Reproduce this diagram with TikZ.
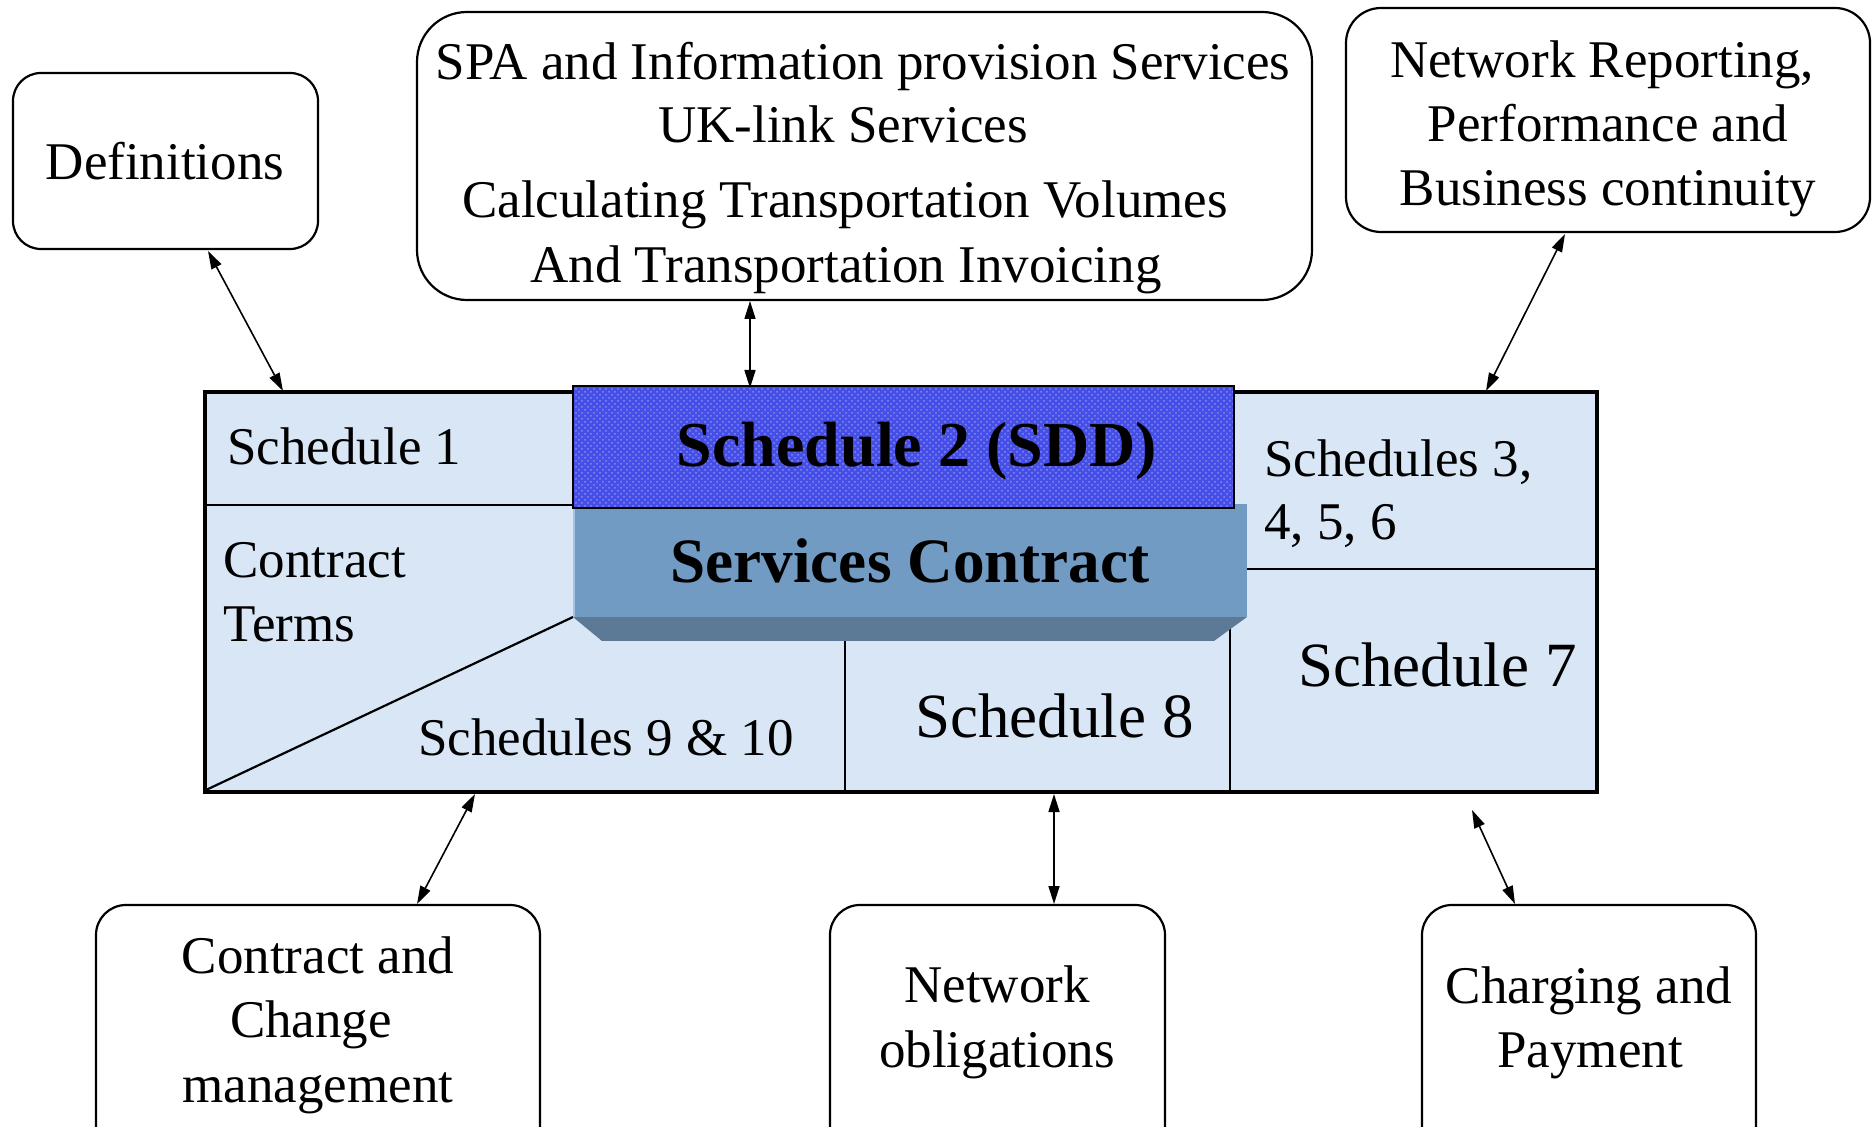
\documentclass[tikz,border=0pt]{standalone}
\usepackage{fontspec}
\setmainfont{Liberation Serif}
\usetikzlibrary{arrows.meta,patterns}
\definecolor{mainbg}{RGB}{216,230,246}
\definecolor{sddblue}{RGB}{70,78,232}
\definecolor{faceblue}{RGB}{114,155,195}
\definecolor{bevelblue}{RGB}{92,121,150}
\definecolor{faceedge}{RGB}{160,195,230}
\begin{document}
\begin{tikzpicture}[x=0.5pt,y=-0.5pt,
  txt/.style={inner sep=0pt, font=\fontsize{26.5}{32}\selectfont, anchor=base},
  txtl/.style={txt, anchor=base west},
  bigl/.style={inner sep=0pt, font=\fontsize{31.5}{38}\selectfont, anchor=base west},
  boldtxt/.style={inner sep=0pt, anchor=base},
  rbox/.style={draw, line width=1.1pt, rectangle, inner sep=0pt, fill=white},
  inner/.style={line width=1.1pt},
  arr/.style={line width=0.8pt, {Triangle[length=9pt,width=5.5pt]}-{Triangle[length=9pt,width=5.5pt]}}]
\useasboundingbox (0,0) rectangle (1873,1127);
\clip (0,0) rectangle (1873,1127);
\fill[white] (0,0) rectangle (1873,1127);

% outer boxes
\node[rbox, rounded corners=14pt, minimum width=152.5pt, minimum height=88pt] (defbox) at (165.5,161) {};
\node[rbox, rounded corners=25pt, minimum width=447.5pt, minimum height=144pt] (spabox) at (864.5,156) {};
\node[rbox, rounded corners=17.5pt, minimum width=262pt, minimum height=112pt] (netbox) at (1608,120) {};
\node[rbox, rounded corners=15pt, minimum width=222pt, minimum height=140pt] (ccbox) at (318,1045) {};
\node[rbox, rounded corners=15pt, minimum width=167.5pt, minimum height=140pt] (nobox) at (997.5,1045) {};
\node[rbox, rounded corners=15pt, minimum width=167pt, minimum height=140pt] (cpbox) at (1589,1045) {};

% main box
\node[draw, line width=2.2pt, fill=mainbg, minimum width=696pt, minimum height=200pt, inner sep=0pt] (main) at (901,592) {};
\draw[inner] (205,505) -- (573,505);
\draw[inner] (206,790) -- (573,617);
\draw[inner] (845,617) -- (845,792);
\draw[inner] (1230,617) -- (1230,792);
\draw[inner] (1247,569) -- (1597,569);

% services contract block
\fill[bevelblue] (573,617) -- (602,641) -- (1214,641) -- (1247,617) -- cycle;
\fill[faceblue] (573,504) rectangle (1247,617);
\draw[faceedge, line width=1pt] (574,508) -- (574,617);
% schedule 2 block
\fill[sddblue] (573,386) rectangle (1234,508);
\fill[pattern=crosshatch dots, pattern color=white, opacity=0.35] (573,386) rectangle (1234,508);
\draw[line width=1.2pt] (573,386) rectangle (1234,508);

% texts in main box
\node[boldtxt, font=\fontsize{32}{38}\selectfont\bfseries] (sddtxt) at (917,467) {Schedule 2 (SDD)};
\node[boldtxt, font=\fontsize{31.6}{38}\selectfont\bfseries] (sctxt) at (910,583) {Services Contract};
\node[txtl] (s1) at (227,465) {Schedule 1};
\node[txtl] (ct1) at (223,578) {Contract};
\node[txtl] (ct2) at (223,642) {Terms};
\node[txtl] (s910) at (418,755) {Schedules 9 \& 10};
\node[txtl] (s3a) at (1264,477) {Schedules 3,};
\node[txtl] (s3b) at (1264,540) {4, 5, 6};
\node[bigl] (s7) at (1298,687) {Schedule 7};
\node[bigl] (s8) at (915,737) {Schedule 8};

% texts in outer boxes
\node[txt] (deft) at (165,180) {Definitions};
\node[txt] (spa1) at (863,80) {SPA and Information provision Services};
\node[txt] (spa2) at (843,143) {UK-link Services};
\node[txt] (spa3) at (845,218) {Calculating Transportation Volumes};
\node[txt] (spa4) at (846,283) {And Transportation Invoicing};
\node[txt] (net1) at (1602,78) {Network Reporting,};
\node[txt] (net2) at (1608,142) {Performance and};
\node[txt] (net3) at (1608,206) {Business continuity};
\node[txt] (cc1) at (318,973) {Contract and};
\node[txt] (cc2) at (311,1037) {Change};
\node[txt] (cc3) at (318,1102) {management};
\node[txt] (no1) at (997,1002) {Network};
\node[txt] (no2) at (997,1067) {obligations};
\node[txt] (cp1) at (1589,1003) {Charging and};
\node[txt] (cp2) at (1590,1067) {Payment};

% connector end points
\coordinate (defend) at (208,251);
\coordinate (mainA) at (283,391);
\coordinate (spaend) at (750,301);
\coordinate (mainB) at (750,388);
\coordinate (netend) at (1565,234);
\coordinate (mainC) at (1486,391);
\coordinate (mainD) at (475,794);
\coordinate (ccend) at (417,904);
\coordinate (mainE) at (1054,794);
\coordinate (noend) at (1054,904);
\coordinate (freeF) at (1472,810);
\coordinate (cpend) at (1515,904);

\draw[arr] (defend) -- (mainA);
\draw[arr] (spaend) -- (mainB);
\draw[arr] (netend) -- (mainC);
\draw[arr] (mainD) -- (ccend);
\draw[arr] (mainE) -- (noend);
\draw[arr] (freeF) -- (cpend);
\end{tikzpicture}
\end{document}
